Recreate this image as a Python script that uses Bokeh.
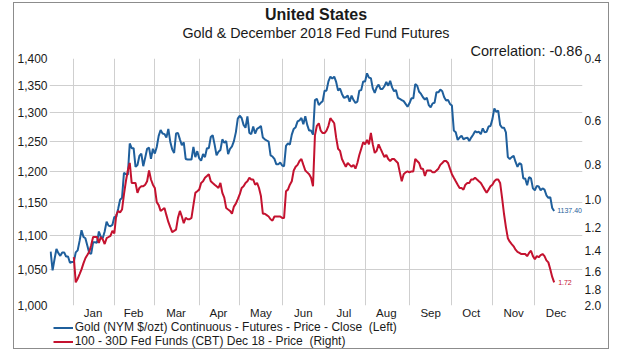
import pandas as pd
from bokeh.plotting import figure
from bokeh.layouts import column
from bokeh.models import (Range1d, LogScale, LogAxis, FixedTicker, NumeralTickFormatter,
                          PrintfTickFormatter, Label, Legend, LegendItem, Title)
from bokeh.embed import file_html
from bokeh.resources import INLINE

FONT = "Liberation Sans"
BLUE = "#1f5f9c"
RED = "#c4122f"
TXT = "#1a1a1a"

title_text = "United States"
subtitle_text = "Gold & December 2018 Fed Fund Futures"
corr_text = "Correlation: -0.86"
gold_name = "Gold (NYM $/ozt) Continuous - Futures - Price - Close  (Left)"
fed_name = "100 - 30D Fed Funds (CBT) Dec 18 - Price  (Right)"

start_date = "2015-12-16"      # first weekday of the gold series
fed_start_date = "2016-01-01"  # first weekday of the fed funds series
month_names = ["Jan", "Feb", "Mar", "Apr", "May", "Jun",
               "Jul", "Aug", "Sep", "Oct", "Nov", "Dec"]
gold_ticks = [1000, 1050, 1100, 1150, 1200, 1250, 1300, 1350, 1400]
fed_ticks = [0.4, 0.6, 0.8, 1.0, 1.2, 1.4, 1.6, 1.8, 2.0]

# Gold, daily (weekdays), $/ozt
gold = [
    1076, 1049, 1065, 1080, 1074, 1070, 1075, 1075, 1069, 1069,
    1060, 1061, 1061, 1075, 1078, 1092, 1108, 1098, 1096, 1085,
    1074, 1073, 1090, 1090, 1089, 1106, 1098, 1096, 1106, 1121,
    1115, 1114, 1116, 1128, 1128, 1141, 1155, 1158, 1198, 1196,
    1195, 1247, 1239, 1239, 1208, 1211, 1226, 1230, 1209, 1223,
    1238, 1240, 1221, 1238, 1230, 1241, 1260, 1270, 1264, 1263,
    1257, 1272, 1250, 1237, 1231, 1264, 1265, 1254, 1244, 1249,
    1221, 1220, 1220, 1220, 1241, 1224, 1234, 1222, 1218, 1229,
    1224, 1239, 1239, 1258, 1261, 1245, 1227, 1233, 1236, 1254,
    1248, 1251, 1229, 1238, 1242, 1251, 1266, 1290, 1295, 1291,
    1279, 1274, 1294, 1265, 1263, 1276, 1264, 1272, 1274, 1277,
    1257, 1254, 1252, 1250, 1227, 1225, 1221, 1212, 1212, 1215,
    1210, 1209, 1243, 1247, 1245, 1262, 1272, 1275, 1285, 1287,
    1291, 1280, 1294, 1279, 1269, 1269, 1262, 1323, 1325, 1314,
    1318, 1321, 1340, 1340, 1357, 1366, 1362, 1366, 1356, 1340,
    1344, 1334, 1327, 1328, 1331, 1320, 1331, 1323, 1318, 1320,
    1340, 1341, 1357, 1357, 1372, 1364, 1363, 1344, 1336, 1346,
    1351, 1343, 1343, 1348, 1356, 1349, 1358, 1346, 1339, 1341,
    1327, 1325, 1323, 1321, 1316, 1311, 1317, 1326, 1326, 1352,
    1349, 1338, 1334, 1328, 1324, 1327, 1314, 1310, 1317, 1318,
    1337, 1337, 1342, 1339, 1328, 1322, 1323, 1316, 1313, 1269,
    1266, 1253, 1257, 1260, 1254, 1256, 1257, 1251, 1257, 1262,
    1268, 1266, 1267, 1263, 1273, 1266, 1267, 1276, 1277, 1289,
    1308, 1302, 1304, 1279, 1274, 1274, 1266, 1224, 1221, 1224,
    1226, 1216, 1208, 1214, 1212, 1189, 1189, 1178, 1191, 1189,
    1173, 1170, 1177, 1176, 1170, 1173, 1171, 1162, 1158, 1159,
    1142, 1137.40,
]

# 100 - 30D Fed Funds Dec 18 price (implied rate), daily (weekdays)
fed = [
    1.46, 1.72, 1.68, 1.63, 1.58, 1.52, 1.47, 1.44, 1.41, 1.35,
    1.28, 1.28, 1.28, 1.33, 1.28, 1.30, 1.34, 1.29, 1.28, 1.27,
    1.23, 1.25, 1.11, 1.08, 1.09, 1.07, 0.97, 0.89, 0.83, 0.79,
    0.90, 0.90, 0.90, 0.96, 0.93, 0.92, 0.92, 0.91, 0.89, 0.83,
    0.88, 0.91, 0.93, 1.02, 1.04, 1.08, 1.07, 1.06, 1.11, 1.16,
    1.20, 1.24, 1.23, 1.22, 1.13, 1.08, 1.12, 1.17, 1.13, 1.14,
    1.14, 1.13, 1.04, 0.96, 0.95, 0.94, 0.90, 0.89, 0.87, 0.86,
    0.85, 0.89, 0.90, 0.91, 0.92, 0.93, 0.90, 0.96, 0.99, 1.06,
    1.07, 1.08, 1.10, 1.05, 1.03, 1.00, 0.97, 0.93, 0.92, 0.90,
    0.89, 0.87, 0.88, 0.88, 0.91, 0.90, 0.93, 0.98, 1.10, 1.10,
    1.11, 1.12, 1.14, 1.15, 1.12, 1.12, 1.12, 1.12, 1.13, 1.13,
    0.95, 0.94, 0.91, 0.89, 0.83, 0.81, 0.80, 0.78, 0.77, 0.80,
    0.83, 0.84, 0.85, 0.87, 0.92, 0.66, 0.62, 0.61, 0.64, 0.65,
    0.65, 0.64, 0.62, 0.59, 0.60, 0.61, 0.67, 0.72, 0.73, 0.77,
    0.79, 0.81, 0.79, 0.80, 0.81, 0.80, 0.82, 0.79, 0.75, 0.72,
    0.69, 0.70, 0.68, 0.70, 0.65, 0.70, 0.74, 0.73, 0.70, 0.72,
    0.74, 0.76, 0.75, 0.77, 0.78, 0.77, 0.77, 0.78, 0.79, 0.84,
    0.89, 0.85, 0.84, 0.835, 0.84, 0.835, 0.835, 0.77, 0.78, 0.79,
    0.82, 0.82, 0.86, 0.83, 0.83, 0.83, 0.84, 0.84, 0.83, 0.82,
    0.80, 0.79, 0.78, 0.78, 0.79, 0.82, 0.85, 0.87, 0.89, 0.91,
    0.93, 0.93, 0.94, 0.91, 0.90, 0.90, 0.88, 0.88, 0.87, 0.88,
    0.89, 0.90, 0.92, 0.94, 0.96, 0.94, 0.92, 0.91, 0.89, 0.88,
    0.88, 0.90, 0.99, 1.10, 1.20, 1.29, 1.32, 1.34, 1.36, 1.39,
    1.41, 1.42, 1.43, 1.43, 1.43, 1.45, 1.42, 1.40, 1.45, 1.48,
    1.45, 1.46, 1.44, 1.43, 1.45, 1.49, 1.51, 1.58, 1.66, 1.72,
]

# ---- x positions: weekday index (no weekend gaps) ----
dates = pd.bdate_range(start_date, periods=len(gold))
x_gold = list(range(len(gold)))
fed_off = int(dates.get_loc(pd.Timestamp(fed_start_date)))
x_fed = list(range(fed_off, fed_off + len(fed)))

cal = pd.bdate_range(start_date, "2017-01-31")
month_starts = []
for m in range(1, 13):
    month_starts.append(int(((cal.year == 2016) & (cal.month == m)).argmax()))
next_start = int((cal.year == 2017).argmax())
bounds = month_starts + [next_start]
month_mids = [(bounds[i] + bounds[i + 1]) // 2 for i in range(12)]

# ---------------- main chart ----------------
p = figure(width=594, height=318, output_backend="svg", toolbar_location=None,
           x_range=Range1d(-0.6, 275.7), y_range=Range1d(1000, 1400),
           y_axis_type="log",
           min_border_left=34, min_border_right=26, min_border_top=55,
           min_border_bottom=14)
p.extra_y_ranges = {"fed": Range1d(2.0, 0.4)}
p.extra_y_scales = {"fed": LogScale()}
p.background_fill_color = "white"
p.border_fill_color = "white"
p.outline_line_color = None

# left axis (gold, log)
ya = p.yaxis[0]
ya.ticker = FixedTicker(ticks=gold_ticks)
ya.formatter = NumeralTickFormatter(format="0,0")
ya.axis_line_color = None
ya.major_tick_line_color = None
ya.minor_tick_line_color = None
ya.major_tick_out = 0
ya.major_label_standoff = 2
ya.major_label_text_font = FONT
ya.major_label_text_font_size = "12px"
ya.major_label_text_color = TXT

# right axis (fed funds, inverted log)
ra = LogAxis(y_range_name="fed", ticker=FixedTicker(ticks=fed_ticks),
             formatter=PrintfTickFormatter(format="%.1f"))
ra.axis_line_color = None
ra.major_tick_line_color = None
ra.minor_tick_line_color = None
ra.major_tick_out = 0
ra.major_label_standoff = 2
ra.major_label_text_font = FONT
ra.major_label_text_font_size = "12px"
ra.major_label_text_color = TXT
p.add_layout(ra, "right")

# x axis: month names centred in each month
xa = p.xaxis[0]
xa.ticker = FixedTicker(ticks=month_mids)
xa.major_label_overrides = {m: n for m, n in zip(month_mids, month_names)}
xa.axis_line_color = None
xa.major_tick_line_color = None
xa.minor_tick_line_color = None
xa.major_tick_out = 0
xa.major_tick_in = 0
xa.major_label_standoff = 1
xa.major_label_text_font = FONT
xa.major_label_text_font_size = "11.5px"
xa.major_label_text_color = TXT

p.xgrid.ticker = FixedTicker(ticks=month_starts)
p.xgrid.grid_line_color = "#cfcfcf"
p.ygrid.grid_line_color = "#cfcfcf"

r_gold = p.line(x_gold, gold, line_color=BLUE, line_width=2)
r_fed = p.line(x_fed, fed, line_color=RED, line_width=2, y_range_name="fed")

# end-value tags
p.add_layout(Label(x=x_gold[-1], y=gold[-1], x_offset=3, text="%.2f" % gold[-1],
                   text_font=FONT, text_font_size="7px", text_color=BLUE,
                   text_baseline="middle"))
p.add_layout(Label(x=x_fed[-1], y=fed[-1], y_range_name="fed", x_offset=4,
                   text="%.2f" % fed[-1], text_font=FONT, text_font_size="7px",
                   text_color=RED, text_baseline="middle"))

# titles, stacked above the plot (first = nearest to the plot)
p.title = None
p.add_layout(Title(text=corr_text, align="right", standoff=0,
                   text_font=FONT, text_font_size="14.5px", text_font_style="normal",
                   text_color=TXT), "above")
p.add_layout(Title(text=subtitle_text, align="center", standoff=0,
                   text_font=FONT, text_font_size="14.3px", text_font_style="normal",
                   text_color=TXT), "above")
p.add_layout(Title(text=title_text, align="center", standoff=0,
                   text_font=FONT, text_font_size="16px", text_font_style="bold",
                   text_color=TXT), "above")

# ---------------- legend strip (same series, drawn off-view) ----------------
pl = figure(width=594, height=27, output_backend="svg", toolbar_location=None,
            x_range=Range1d(0, 1), y_range=Range1d(0, 1),
            x_axis_location=None, y_axis_location=None,
            min_border=0, min_border_left=0, min_border_right=0,
            min_border_top=0, min_border_bottom=0)
pl.title = None
pl.grid.visible = False
pl.outline_line_color = None
pl.background_fill_color = "white"
pl.border_fill_color = "white"
lg_gold = pl.line(x_gold, gold, line_color=BLUE, line_width=2)
lg_fed = pl.line(x_fed, fed, line_color=RED, line_width=2)

legend = Legend(items=[LegendItem(label=gold_name, renderers=[lg_gold]),
                       LegendItem(label=fed_name, renderers=[lg_fed])],
                location=(3.7, 0), orientation="vertical",
                background_fill_alpha=0, border_line_color=None,
                label_text_font=FONT, label_text_font_size="12px",
                label_text_color=TXT, glyph_width=20, glyph_height=13,
                label_height=13, spacing=0, padding=0, margin=0,
                label_standoff=2)
pl.add_layout(legend)

page = column(p, pl, spacing=0)
page.styles = {"margin-left": "13px", "margin-top": "2px",
               "border": "1px solid #8c8c8c", "background-color": "white"}

open("out.html", "w").write(file_html(page, INLINE))
